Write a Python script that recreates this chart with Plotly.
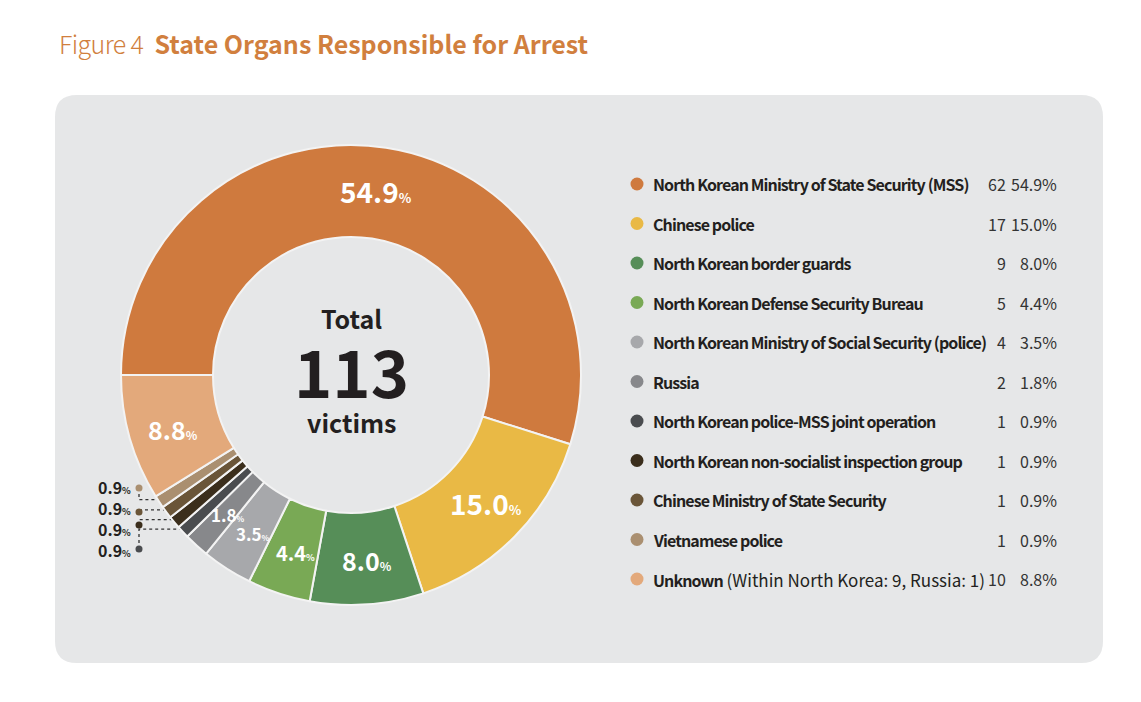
import math
import plotly.graph_objects as go

# ---------------- data ----------------
categories = [
    "North Korean Ministry of State Security (MSS)",
    "Chinese police",
    "North Korean border guards",
    "North Korean Defense Security Bureau",
    "North Korean Ministry of Social Security (police)",
    "Russia",
    "North Korean police-MSS joint operation",
    "North Korean non-socialist inspection group",
    "Chinese Ministry of State Security",
    "Vietnamese police",
    "Unknown",
]
notes = ["", "", "", "", "", "", "", "", "", "", "(Within North Korea: 9, Russia: 1)"]
victims = [62, 17, 9, 5, 4, 2, 1, 1, 1, 1, 10]

title_prefix = "Figure 4"
title_main = "State Organs Responsible for Arrest"
center_top = "Total"
center_bottom = "victims"

# ---------------- styles ----------------
colors = ["#cf7a3e", "#e9b945", "#568e58", "#79a955", "#a7a8ab", "#87888b",
          "#4a4c4f", "#3b2e1c", "#6a5538", "#aa8f70", "#e3a97b"]
W, H = 1141, 702
CX, CY, R = 351, 375, 230
HOLE = 0.6
ROT = 270
FONT = "Noto Sans CJK KR"
TITLE_FONT = "Noto Sans CJK KR"
INK = "#231f20"
PANEL = "#e6e7e8"
ORANGE = "#d17f3e"
TIGHT = "letter-spacing:-0.9px"

total = sum(victims)
pcts = [v / total * 100 for v in victims]

fig = go.Figure()

# background panel (rounded)
x0, y0, x1, y1, rr = 55, 95, 1103, 663, 22
panel_path = (f"M{x0+rr},{y0} L{x1-rr},{y0} Q{x1},{y0} {x1},{y0+rr} "
              f"L{x1},{y1-rr} Q{x1},{y1} {x1-rr},{y1} L{x0+rr},{y1} "
              f"Q{x0},{y1} {x0},{y1-rr} L{x0},{y0+rr} Q{x0},{y0} {x0+rr},{y0} Z")
fig.add_shape(type="path", path=panel_path, xref="x", yref="y",
              fillcolor=PANEL, line=dict(width=0), layer="below")

# donut
fig.add_trace(go.Pie(
    labels=categories, values=victims, sort=False, direction="clockwise",
    rotation=ROT, hole=HOLE, textinfo="none", hoverinfo="label+value+percent",
    marker=dict(colors=colors, line=dict(color="#f3f3f3", width=2)),
    domain=dict(x=[(CX - R) / W, (CX + R) / W], y=[1 - (CY + R) / H, 1 - (CY - R) / H]),
    showlegend=False,
))

# geometry helpers for labels
cum = 0
mids = []
for v in victims:
    mids.append(ROT + 360 * (cum + v / 2) / total)
    cum += v

def polar(theta_deg, rad):
    t = math.radians(theta_deg)
    return CX + rad * math.sin(t), CY - rad * math.cos(t)

annotations = []

def size_for(v):
    if v >= 17:
        return 28
    if v >= 9:
        return 25
    if v >= 5:
        return 20
    return 17

# inside slice labels
small = []
for i, (v, p) in enumerate(zip(victims, pcts)):
    if v >= 2:
        x, y = polar(mids[i] - 1, 186)
        s = size_for(v)
        annotations.append(dict(
            x=x, y=y, xref="x", yref="y", showarrow=False,
            text=f"<b>{p:.1f}</b><span style='font-size:{int(s*0.48)}px'><b>%</b></span>",
            font=dict(family=FONT, size=s, color="white"),
            xanchor="center", yanchor="middle"))
    else:
        small.append(i)

# small slice call-outs (ordered top to bottom on the left)
small_sorted = sorted(small, key=lambda i: -mids[i])  # larger angle = higher
dot_ys = [488, 512, 525, 549]
text_ys = [487, 508, 529, 550]
DOT_X = 139
for k, i in enumerate(small_sorted):
    ly = dot_ys[k]
    ex, ey = polar(mids[i], R - 4)
    annotations.append(dict(
        x=DOT_X - 6, y=text_ys[k], xref="x", yref="y", showarrow=False,
        text=f"<b>{pcts[i]:.1f}</b><span style='font-size:9px'><b>%</b></span>",
        font=dict(family=FONT, size=16, color=INK), xanchor="right", yanchor="middle"))
    if abs(ly - ey) > 4:
        pts = [(DOT_X, ly), (DOT_X, ey), (ex, ey)]
    else:
        pts = [(DOT_X, ey), (ex, ey)]
    path = "M" + " L".join(f"{px:.1f},{py:.1f}" for px, py in pts)
    fig.add_shape(type="path", path=path, xref="x", yref="y",
                  line=dict(color="#333333", width=1.3, dash="dot"), layer="below")

fig.add_trace(go.Scatter(
    x=[DOT_X] * len(small_sorted), y=dot_ys[:len(small_sorted)], mode="markers",
    marker=dict(size=7, color=[colors[i] for i in small_sorted]),
    hoverinfo="skip", showlegend=False, xaxis="x", yaxis="y"))

# center text
annotations += [
    dict(x=CX, y=318, text=f"<b>{center_top}</b>", font=dict(family=FONT, size=25, color=INK)),
    dict(x=CX, y=370, text=f"<b>{total}</b>", font=dict(family=FONT, size=65, color=INK)),
    dict(x=CX, y=422, text=f"<b>{center_bottom}</b>", font=dict(family=FONT, size=25, color=INK)),
]
for a in annotations[-3:]:
    a.update(xref="x", yref="y", showarrow=False, xanchor="center", yanchor="middle")

# legend
ROW0, ROWH = 184, 39.5
row_ys = [ROW0 + ROWH * i for i in range(len(categories))]
fig.add_trace(go.Scatter(
    x=[637] * len(categories), y=row_ys, mode="markers",
    marker=dict(size=13, color=colors), hoverinfo="skip", showlegend=False,
    xaxis="x", yaxis="y"))
for i, (c, n, v, p) in enumerate(zip(categories, notes, victims, pcts)):
    y = row_ys[i]
    txt = f"<span style='{TIGHT}'><b>{c}</b></span>"
    if n:
        txt += f"<span style='font-size:17px'> {n}</span>"
    annotations.append(dict(x=651, y=y, xref="x", yref="y", showarrow=False, text=txt,
                            font=dict(family=FONT, size=16, color=INK),
                            xanchor="left", yanchor="middle"))
    annotations.append(dict(x=1008, y=y, xref="x", yref="y", showarrow=False, text=f"{v}",
                            font=dict(family=FONT, size=16, color="#333333"),
                            xanchor="right", yanchor="middle"))
    annotations.append(dict(x=1059, y=y, xref="x", yref="y", showarrow=False, text=f"{p:.1f}%",
                            font=dict(family=FONT, size=16, color="#333333"),
                            xanchor="right", yanchor="middle"))

# title
annotations.append(dict(
    x=57, y=43, xref="x", yref="y", showarrow=False, xanchor="left", yanchor="middle",
    text=f"<span style='font-weight:300;letter-spacing:-0.6px'>{title_prefix}</span>  "
         f"<b>{title_main}</b>",
    font=dict(family=TITLE_FONT, size=25, color=ORANGE)))

fig.update_layout(
    width=W, height=H, margin=dict(l=0, r=0, t=0, b=0),
    paper_bgcolor="white", plot_bgcolor="rgba(0,0,0,0)",
    xaxis=dict(range=[0, W], visible=False, fixedrange=True),
    yaxis=dict(range=[H, 0], visible=False, fixedrange=True),
    annotations=annotations, showlegend=False,
)

fig.write_html("out.html", config={"displayModeBar": False},
               post_script="document.body.style.margin='0';")
